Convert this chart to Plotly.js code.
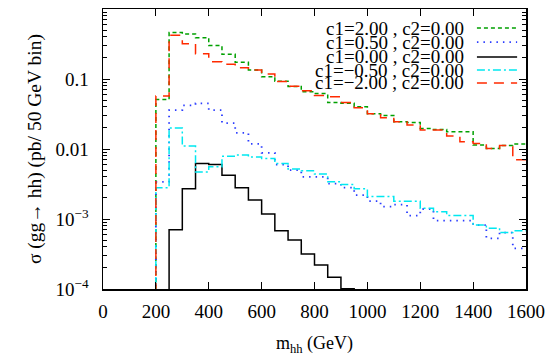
<!DOCTYPE html>
<html>
<head>
<meta charset="utf-8">
<script src="https://cdn.plot.ly/plotly-3.0.1.min.js"></script>
<style>
  body { margin: 0; background: #fff; }
  #myHH { width: 554px; height: 362px; }
</style>
</head>
<body>
<div id="myHH"></div>
<script>
// left edges of the 50 GeV bins
var binEdges = [200, 250, 300, 350, 400, 450, 500, 550, 600, 650, 700, 750, 800, 850,
                900, 950, 1000, 1050, 1100, 1150, 1200, 1250, 1300, 1350, 1400, 1450, 1500, 1550];
var binWidth = 50;

var sig_c1_p200 = [0.051, 0.46, 0.44, 0.39, 0.30, 0.225, 0.173, 0.135, 0.108, 0.093, 0.078, 0.066, 0.062, 0.046,
                   0.045, 0.040, 0.032, 0.030, 0.0245, 0.024, 0.0197, 0.019, 0.0177, 0.0177, 0.0114, 0.0102, 0.0112, 0.0118];
var sig_c1_p050 = [0.0034, 0.036, 0.042, 0.045, 0.036, 0.0235, 0.017, 0.0118, 0.0088, 0.006, 0.005, 0.004, 0.004, 0.0032,
                   0.0028, 0.0022, 0.0018, 0.0015, 0.0016, 0.00112, 0.00139, 0.00095, 0.00095, 0.00095, 0.00082, 0.00053, 0.00064, 0.00038];
// c1 = 0 falls under the axis (1e-4) outside 250-950
var sig_c1_000 = [1e-6, 0.0007, 0.0027, 0.0062, 0.006, 0.0042, 0.0028, 0.00187, 0.00118, 0.00068, 0.0005, 0.000316, 0.00022, 0.000147,
                  0.000101, 1e-6];
var sig_c1_m050 = [0.0028, 0.020, 0.011, 0.0047, 0.0056, 0.0079, 0.0082, 0.0077, 0.0073, 0.0062, 0.0052, 0.0049, 0.0044, 0.0034,
                   0.0031, 0.0027, 0.0021, 0.0021, 0.0018, 0.0018, 0.00142, 0.00127, 0.00112, 0.00112, 0.00082, 0.00074, 0.00064, 0.00068];
var sig_c1_m200 = [0.057, 0.42, 0.32, 0.23, 0.177, 0.162, 0.145, 0.134, 0.118, 0.092, 0.079, 0.068, 0.058, 0.056,
                   0.046, 0.039, 0.032, 0.028, 0.0245, 0.022, 0.0187, 0.0187, 0.0153, 0.0127, 0.012, 0.0102, 0.0112, 0.007];

var names = ['c1=2.00 , c2=0.00', 'c1=0.50 , c2=0.00', 'c1=0.00 , c2=0.00',
             'c1=\u22120.50 , c2=0.00', 'c1=\u22122.00 , c2=0.00'];

var yTickVals = [1e-4, 1e-3, 0.01, 0.1, 1];
var yTickText = ['10<sup>\u22124</sup>', '10<sup>\u22123</sup>', '0.01', '0.1', '1'];

// step outline of a histogram, starting from below the axis
function histo(vals) {
  var xs = [binEdges[0]], ys = [1e-6];
  for (let i = 0; i < vals.length; i++) {
    xs.push(binEdges[i]);
    ys.push(vals[i]);
  }
  xs.push(binEdges[vals.length - 1] + binWidth);
  ys.push(vals[vals.length - 1]);
  return {x: xs, y: ys};
}

var styles = [
  {color: '#00a000', dash: '4px,3px', width: 1.5},
  {color: '#2a3cff', dash: '1.5px,5px', width: 1.8},
  {color: '#000000', dash: 'solid', width: 1.5},
  {color: '#00e8f0', dash: '8px,3px,2px,3px', width: 1.5},
  {color: '#ff2a00', dash: '10px,7px', width: 1.5}
];
var series = [sig_c1_p200, sig_c1_p050, sig_c1_000, sig_c1_m050, sig_c1_m200];

var traces = [];
for (let k = 0; k < series.length; k++) {
  var h = histo(series[k]);
  traces.push({
    x: h.x, y: h.y, mode: 'lines', name: names[k],
    line: {shape: 'hv', color: styles[k].color, dash: styles[k].dash, width: styles[k].width},
    showlegend: false, cliponaxis: true
  });
}

// hand made key: text right aligned, sample line on the right
var annotations = [];
var shapes = [];
var rowY = [0.932, 0.882, 0.829, 0.782, 0.736];
for (let k = 0; k < names.length; k++) {
  annotations.push({
    xref: 'paper', yref: 'paper', x: 0.858, y: rowY[k],
    xanchor: 'right', yanchor: 'middle', showarrow: false,
    text: names[k], font: {family: 'Liberation Serif', size: 19, color: '#000'}
  });
  shapes.push({
    type: 'line', xref: 'paper', yref: 'paper',
    x0: 0.884, x1: 0.979, y0: rowY[k], y1: rowY[k],
    line: {color: styles[k].color, dash: styles[k].dash, width: styles[k].width}
  });
}

var minorY = [];
for (let d = -4; d < 0; d++) {
  for (let m = 2; m <= 9; m++) minorY.push(m * Math.pow(10, d));
}

Plotly.newPlot('myHH', traces, {
  width: 554, height: 362,
  margin: {l: 103, r: 28, t: 9, b: 73, pad: 0},
  paper_bgcolor: '#fff', plot_bgcolor: '#fff',
  font: {family: 'Liberation Serif', size: 18, color: '#000'},
  showlegend: false,
  xaxis: {
    range: [0, 1600], tickvals: [0, 200, 400, 600, 800, 1000, 1200, 1400, 1600],
    ticks: 'inside', ticklen: 7, tickwidth: 1, tickcolor: '#000',
    showline: true, linecolor: '#000', linewidth: 1.5, mirror: 'allticks',
    showgrid: false, zeroline: false,
    tickfont: {family: 'Liberation Serif', size: 19},
    ticklabelstandoff: 5,
    title: {text: 'm<sub>hh</sub> (GeV)', font: {family: 'Liberation Serif', size: 18}, standoff: 15}
  },
  yaxis: {
    type: 'log', range: [-4, 0],
    tickmode: 'array', tickvals: yTickVals, ticktext: yTickText,
    ticks: 'inside', ticklen: 7, tickwidth: 1, tickcolor: '#000',
    minor: {tickmode: 'array', tickvals: minorY, ticks: 'inside', ticklen: 4, tickcolor: '#000', showgrid: false},
    showline: true, linecolor: '#000', linewidth: 1.5, mirror: 'allticks',
    showgrid: false, zeroline: false,
    tickfont: {family: 'Liberation Serif', size: 19},
    ticklabelstandoff: 9,
    title: {text: '\u03c3 (gg\u2192 hh) (pb/ 50 GeV bin)', font: {family: 'Liberation Serif', size: 19.5}, standoff: 8}
  },
  annotations: annotations,
  shapes: shapes
}, {staticPlot: true});
</script>
</body>
</html>
